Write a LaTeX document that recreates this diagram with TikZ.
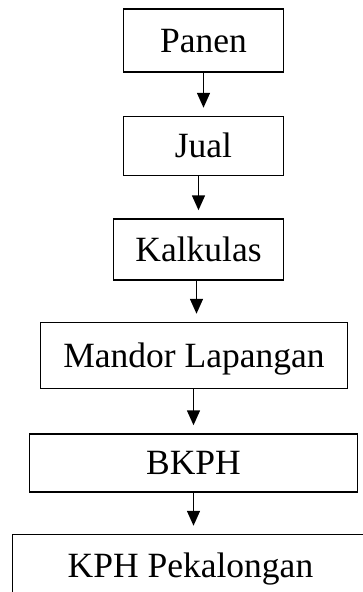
\documentclass[tikz,border=0pt]{standalone}
\usepackage{fontspec}
\setmainfont{Liberation Serif}
\usetikzlibrary{arrows.meta, positioning}

\begin{document}
\begin{tikzpicture}[
    node distance=42pt,
    base/.style={draw, line width=1.5pt, align=center, inner sep=0pt, text height=23.5pt, text depth=0pt, font=\fontsize{35.5pt}{42pt}\selectfont},
    block/.style={base, rectangle},
    arrow/.style={-{Triangle[width=13pt,length=15pt]}, line width=1.6pt, shorten >=8pt}
]
    \useasboundingbox (0,0) rectangle (363pt,-592pt);

    \node [block, minimum width=160pt, minimum height=63pt] (panen) at (203.5pt,-40.5pt) {Panen};
    \node [block, minimum width=160pt, minimum height=59pt] (jual) [below=43pt of panen] {Jual};
    \node [block, minimum width=170pt, minimum height=61pt] (kalkulas) [below=of jual, xshift=-5pt] {Kalkulas};
    \node [block, minimum width=307pt, minimum height=66pt] (mandor) [below=41pt of kalkulas, xshift=-4.5pt] {Mandor Lapangan};
    \node [block, minimum width=328pt, minimum height=58pt] (bkph) [below=44pt of mandor, xshift=-0.5pt] {BKPH};
    \node [block, minimum width=356pt, minimum height=68pt, text depth=6pt] (kph) [below=41pt of bkph, xshift=-3pt] {KPH Pekalongan};

    \draw [arrow] (panen.south -| jual.north) -- (jual.north);
    \draw [arrow] (jual.south -| kalkulas.north) -- (kalkulas.north);
    \draw [arrow] ([xshift=-2pt]kalkulas.south) -- ([xshift=-2pt]kalkulas.south |- mandor.north);
    \draw [arrow] (mandor.south -| bkph.north) -- (bkph.north);
    \draw [arrow] (bkph.south) -- (bkph.south |- kph.north);

\end{tikzpicture}
\end{document}
